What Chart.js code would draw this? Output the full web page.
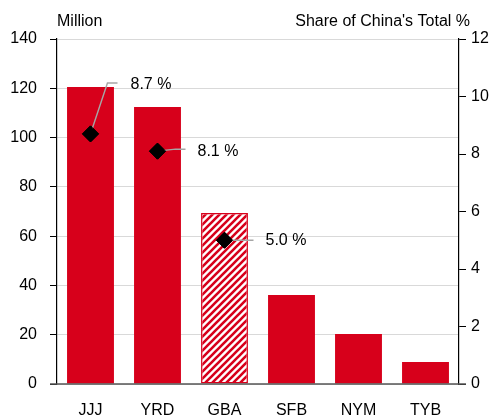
<!DOCTYPE html>
<html>
<head>
<meta charset="utf-8">
<script src="https://cdn.jsdelivr.net/npm/chart.js@4"></script>
<style>
  html, body { margin: 0; padding: 0; background: #fff; }
  #wrap { width: 494px; height: 417px; }
</style>
</head>
<body>
<div id="wrap"><canvas id="chart" width="494" height="417"></canvas></div>
<script>
const categories = ["JJJ", "YRD", "GBA", "SFB", "NYM", "TYB"];
const population = [120.5, 112.4, 69.4, 36.1, 20.3, 8.9];   // Million
const shareOfChina = [8.7, 8.1, 5.0, null, null, null];       // % of China's total
const leftTicks = [0, 20, 40, 60, 80, 100, 120, 140];
const rightTicks = [0, 2, 4, 6, 8, 10, 12];

const RED = "#d7001b";
const FONT = "'Liberation Sans', Arial, sans-serif";
const FSIZE = 16;

// diagonal stripes for the GBA bar
function makeHatch() {
    const s = 7;
    const c = document.createElement("canvas");
    c.width = s; c.height = s;
    const g = c.getContext("2d");
    g.fillStyle = "#fff";
    g.fillRect(0, 0, s, s);
    g.strokeStyle = RED;
    g.lineWidth = 2.6;
    g.beginPath();
    g.moveTo(-1, s + 1); g.lineTo(s + 1, -1);
    g.moveTo(-1, 1); g.lineTo(1, -1);
    g.moveTo(s - 1, s + 1); g.lineTo(s + 1, s - 1);
    g.stroke();
    return g.createPattern(c, "repeat");
}
const hatch = makeHatch();

// where the % callouts sit relative to their diamond (elbow, line end, text start)
const callouts = [
    { ex: 17, ey: -51, lx: 27, ly: -51, tx: 40, ty: -49 },
    { ex: 18, ey: -2, lx: 28, ly: -2, tx: 40, ty: 0 },
    { ex: 14, ey: 0, lx: 29, ly: 0, tx: 41, ty: 0 }
];

const calloutPlugin = {
    id: "callouts",
    afterDatasetsDraw(chart) {
        const ctx = chart.ctx;
        const meta = chart.getDatasetMeta(0);
        ctx.save();
        meta.data.forEach((pt, i) => {
            const v = shareOfChina[i];
            if (v == null || !callouts[i]) return;
            const c = callouts[i];
            ctx.strokeStyle = "#a6a6a6";
            ctx.lineWidth = 1.5;
            ctx.beginPath();
            ctx.moveTo(pt.x, pt.y);
            ctx.lineTo(pt.x + c.ex, pt.y + c.ey);
            ctx.lineTo(pt.x + c.lx, pt.y + c.ly);
            ctx.stroke();
            ctx.fillStyle = "#000";
            ctx.font = FSIZE + "px " + FONT;
            ctx.textAlign = "left";
            ctx.textBaseline = "middle";
            ctx.fillText(v.toFixed(1) + " %", pt.x + c.tx, pt.y + c.ty);
        });
        // diamonds back on top of the leader lines
        meta.data.forEach((pt, i) => { if (shareOfChina[i] != null) pt.draw(ctx); });
        ctx.restore();
    },
    afterDraw(chart) {
        const ctx = chart.ctx;
        const a = chart.chartArea;
        ctx.save();
        ctx.fillStyle = "#000";
        ctx.font = FSIZE + "px " + FONT;
        ctx.textBaseline = "alphabetic";
        ctx.textAlign = "left";
        ctx.fillText("Million", a.left, 26);
        ctx.textAlign = "right";
        ctx.fillText("Share of China's Total %", a.right + 11, 26);
        // base line
        ctx.strokeStyle = "#555";
        ctx.lineWidth = 1.5;
        ctx.beginPath();
        ctx.moveTo(a.left - 7, a.bottom);
        ctx.lineTo(a.right + 7, a.bottom);
        ctx.stroke();
        ctx.restore();
    }
};

new Chart(document.getElementById("chart"), {
    data: {
        labels: categories,
        datasets: [
            {
                type: "line",
                data: shareOfChina,
                yAxisID: "y1",
                showLine: false,
                pointStyle: "rectRot",
                pointRadius: 8,
                pointBackgroundColor: "#000",
                pointBorderColor: "#000",
                order: 1
            },
            {
                type: "bar",
                data: population,
                yAxisID: "y",
                backgroundColor: categories.map(c => c === "GBA" ? hatch : RED),
                borderColor: RED,
                borderWidth: categories.map(c => c === "GBA" ? 1.5 : 0),
                borderSkipped: false,
                barPercentage: 0.7,
                categoryPercentage: 1.0,
                order: 2
            }
        ]
    },
    options: {
        responsive: false,
        animation: false,
        layout: { padding: { top: 39, left: 0, right: 0, bottom: 0 } },
        plugins: { legend: { display: false }, tooltip: { enabled: false } },
        scales: {
            x: {
                grid: { display: false, drawTicks: false },
                border: { display: false },
                ticks: { color: "#000", font: { family: FONT, size: FSIZE }, padding: 17 },
                afterFit(s) { s.height = 33; }
            },
            y: {
                position: "left",
                min: 0, max: 140,
                afterBuildTicks(s) { s.ticks = leftTicks.map(v => ({ value: v })); },
                grid: { color: "#d9d9d9", lineWidth: 1, tickColor: "#000", tickLength: 7 },
                border: { color: "#000", width: 1.2 },
                ticks: { color: "#000", font: { family: FONT, size: FSIZE }, padding: 13 },
                afterFit(s) { s.width = 57; }
            },
            y1: {
                position: "right",
                min: 0, max: 12,
                afterBuildTicks(s) { s.ticks = rightTicks.map(v => ({ value: v })); },
                grid: { drawOnChartArea: false, tickColor: "#000", tickLength: 7 },
                border: { color: "#000", width: 1.2 },
                ticks: { color: "#000", font: { family: FONT, size: FSIZE }, padding: 5 },
                afterFit(s) { s.width = 35; }
            }
        }
    },
    plugins: [calloutPlugin]
});
</script>
</body>
</html>
